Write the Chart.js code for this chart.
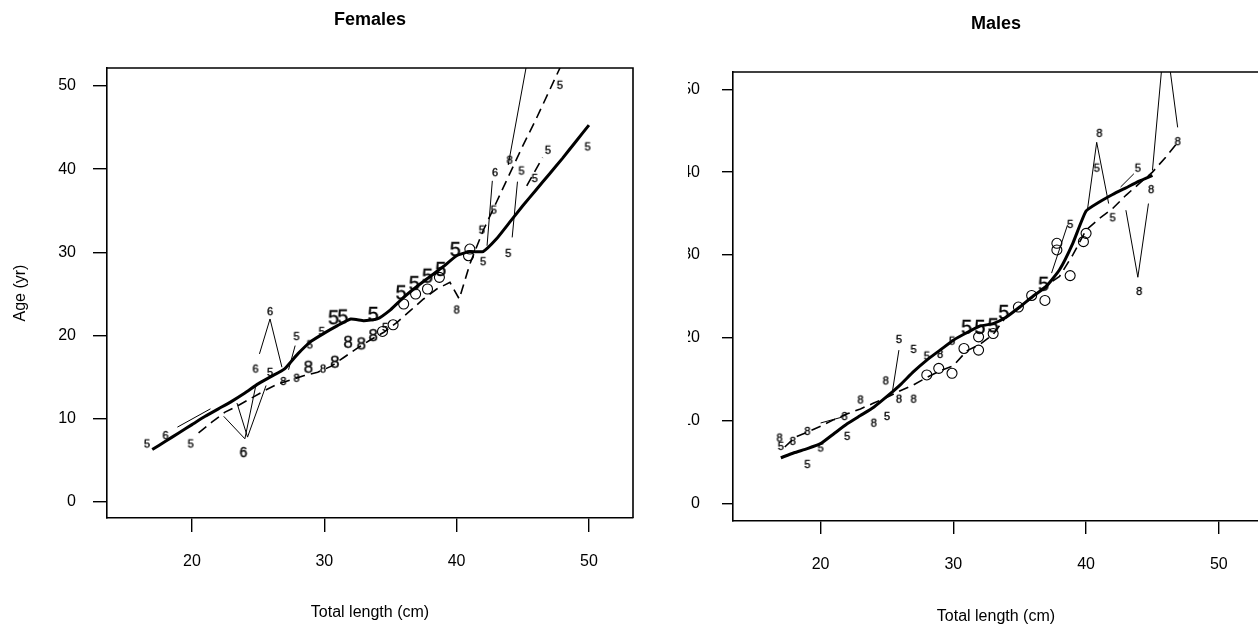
<!DOCTYPE html>
<html>
<head>
<meta charset="utf-8">
<script src="https://cdn.jsdelivr.net/npm/chart.js@4.4.1/dist/chart.umd.min.js"></script>
<style>
  html, body { margin: 0; padding: 0; background: #fff; }
  #wrap { position: relative; width: 1258px; height: 627px; overflow: hidden; }
  #femaleBox { position: absolute; left: 0; top: 0; width: 688px; height: 627px; }
  #maleBox { position: absolute; left: 688px; top: 0; width: 577px; height: 627px; }
</style>
</head>
<body>
<div id="wrap">
  <div id="femaleBox"><canvas id="femaleChart"></canvas></div>
  <div id="maleBox"><canvas id="maleChart"></canvas></div>
</div>
<script>
// axis ticks
const lengthTicks = [20, 30, 40, 50];
const ageTicks = [0, 10, 20, 30, 40, 50];

// ---- Females ----
const femaleLengths = [17,18,19,20,21,22,23,24,25,26,27,28,29,30,31,32,33,34,35,36,37,38,39,40,41,42,43,44,45,46,47,48,49,50];
const femaleMeanAge = [6.3,7.3,8.3,9.3,10.3,11.2,12.1,13.1,14.2,15.1,16.0,17.8,19.3,20.3,21.2,22.0,21.8,22.0,23.1,24.6,25.9,27.1,28.3,29.6,30.1,30.1,31.6,33.6,35.6,37.5,39.4,41.3,43.3,45.3];
const femaleDashed = [[20.5,8.3],[21.5,9.6],[22.5,10.8],[23.5,11.6],[24.5,12.5],[25.5,13.4],[26.5,14.2],[27.5,14.7],[28.5,15.2],[29.5,15.6],[30.5,16.3],[31.5,17.4],[32.5,18.5],[33.5,19.5],[34.5,20.4],[35.5,21.6],[36.5,23.0],[37.5,24.4],[38.5,25.6],[39.5,26.4],[40.2,24.4],[41.0,28.6],[42.0,32.6],[43.0,36.0],[44.0,39.4],[45.0,42.8],[46.0,46.0],[47.0,49.4],[48.2,53.5]];
const femaleDashed2 = [[45.3,38.0],[46.5,41.4]];
const femaleThin = [
  [[18.9,9.0],[21.4,11.2]],
  [[22.4,10.3],[24.0,7.6],[24.8,13.8]],
  [[23.4,11.9],[24.2,7.8],[25.6,14.0]],
  [[25.1,17.8],[25.9,22.0],[26.8,16.2]],
  [[27.3,15.9],[27.8,18.8]],
  [[42.3,30.8],[42.7,38.6]],
  [[44.2,31.8],[44.6,38.5]],
  [[43.9,40.5],[45.4,53.5]]
];
const femaleFives = [[16.6,7.1],[19.9,7.1],[25.9,15.7],[27.9,20.0],[28.9,19.0],[29.8,20.6],[34.6,21.1],[42.0,29.0],[43.9,30.0],[41.9,32.8],[42.8,35.2],[44.9,39.9],[45.9,39.0],[46.9,42.4],[49.9,42.8],[47.8,50.2]];
const femaleSixes = [[18.0,8.1],[24.8,16.1],[25.9,23.0],[42.9,39.7]];
const femaleBigSixes = [[23.9,6.0]];
const femaleEights = [[26.9,14.6],[27.9,15.0],[29.9,16.1],[40.0,23.2],[44.0,41.2]];
const femaleBigEights = [[28.8,16.2],[30.8,16.8],[31.8,19.2],[32.8,19.0],[33.7,20.0]];
const femaleCircles = [[34.4,20.5],[35.2,21.3],[36.0,23.8],[36.9,25.0],[37.8,25.6],[38.7,27.0],[40.9,29.6],[41.0,30.4]];
const femaleBigFives = [[30.7,22.2],[31.4,22.3],[33.7,22.6],[35.8,25.2],[36.8,26.3],[37.8,27.2],[38.8,28.0],[39.9,30.4]];

// ---- Males ----
const maleLengths = [17,18,19,20,21,22,23,24,25,26,27,28,29,30,31,32,33,34,35,36,37,38,39,40,41,42,43,44,45];
const maleMeanAge = [5.5,6.1,6.6,7.2,8.4,9.6,10.6,11.6,12.9,14.3,15.9,17.3,18.5,19.7,20.6,21.4,21.7,22.5,23.7,25.0,26.2,28.2,31.4,35.3,36.4,37.3,38.1,38.9,39.6];
const maleDashed = [[17.3,6.8],[18.1,8.0],[19,8.6],[20,9.3],[21,10.1],[22,10.8],[23,11.4],[24,12.1],[25,12.8],[26,13.6],[27,14.3],[28,15.2],[29,16.0],[30,16.6],[31,18.4],[32,19.2],[33,20.4],[34,22.6],[35,23.6],[36,25.0],[37,26.3],[38,27.4],[39,30.0],[40,33.0],[41,34.4],[42,35.6],[43,37.2],[44,38.6],[45,40.0],[46,41.8],[47,43.8]];
const maleThin = [
  [[20.0,9.7],[21.6,10.4]],
  [[25.4,13.4],[25.9,18.5]],
  [[37.4,27.8],[38.6,33.6]],
  [[40.1,35.4],[40.8,43.6],[41.7,36.2]],
  [[43.0,35.4],[43.9,27.3],[44.7,36.2]],
  [[45.0,40.2],[45.95,57],[46.9,45.4]],
  [[42.6,38.2],[43.6,39.8]]
];
const maleFives = [[17.0,7.0],[19.0,4.8],[20.0,6.8],[22.0,8.2],[25.0,10.6],[25.9,19.9],[27.0,18.7],[28.0,17.9],[29.9,19.7],[38.8,33.8],[40.8,40.6],[42.0,34.6],[43.9,40.6]];
const maleEights = [[16.9,8.0],[17.9,7.6],[19.0,8.8],[21.8,10.6],[23.0,12.6],[24.0,9.8],[24.9,14.9],[25.9,12.7],[27.0,12.7],[29.0,18.1],[41.0,44.8],[44.9,38.0],[44.0,25.7],[46.9,43.8]];
const maleCircles = [[28.0,15.5],[28.9,16.3],[29.9,15.7],[30.8,18.7],[31.9,18.5],[31.9,20.1],[33.0,20.5],[34.9,23.7],[35.9,25.1],[36.9,24.5],[37.8,30.6],[37.8,31.4],[38.8,27.5],[39.8,31.6],[40.0,32.6]];
const maleBigFives = [[31.0,21.3],[32.0,21.3],[33.0,21.5],[33.8,23.1],[36.8,26.5]];

const FONT = '"Liberation Sans", Arial, sans-serif';
Chart.defaults.font.family = FONT;
Chart.defaults.color = '#000';

// little canvases holding a digit, used as point style
function glyph(ch, size) {
  const c = document.createElement('canvas');
  const w = Math.ceil(size * 0.7) + 2, h = Math.ceil(size * 1.0) + 2;
  c.width = w; c.height = h;
  const g = c.getContext('2d');
  g.font = size + 'px ' + FONT;
  g.fillStyle = '#000';
  g.strokeStyle = '#000';
  g.lineWidth = 0.35;
  g.textAlign = 'center';
  g.textBaseline = 'middle';
  g.fillText(ch, w / 2, h / 2 + 1);
  g.strokeText(ch, w / 2, h / 2 + 1);
  return c;
}
const g5 = glyph('5', 11), g6 = glyph('6', 11), g8 = glyph('8', 11);
const gBig6 = glyph('6', 14), gBig8 = glyph('8', 17), gBig5 = glyph('5', 20);

const pts = arr => arr.map(p => ({x: p[0], y: p[1]}));
const zip = (xs, ys) => xs.map((x, i) => ({x: x, y: ys[i]}));

function lineSet(data, width, dash, tension) {
  return { data: data, showLine: true, borderColor: '#000', borderWidth: width,
    borderDash: dash || [], pointRadius: 0, tension: tension || 0, fill: false };
}
function markSet(data, style) {
  return { data: pts(data), showLine: false, pointStyle: style, pointRadius: 4,
    borderColor: '#000', backgroundColor: 'rgba(0,0,0,0)', borderWidth: 1.1 };
}

const frame = {
  id: 'frame',
  afterDraw(chart, args, opts) {
    const ctx = chart.ctx, a = chart.chartArea;
    ctx.save();
    ctx.strokeStyle = '#000';
    ctx.lineWidth = 1.6;
    ctx.beginPath();
    ctx.moveTo(a.left, a.top);
    ctx.lineTo(a.right, a.top);
    if (opts.right) ctx.lineTo(a.right, a.bottom);
    ctx.stroke();
    ctx.fillStyle = '#000';
    ctx.font = 'bold 18px ' + FONT;
    ctx.textAlign = 'center';
    ctx.textBaseline = 'middle';
    ctx.fillText(opts.title, (a.left + a.right) / 2, opts.titleY);
    ctx.restore();
  }
};

function makeChart(id, cfg) {
  const datasets = [
    lineSet(zip(cfg.lengths, cfg.mean), 3, [], 0.15),
    lineSet(pts(cfg.dashed), 1.6, [10, 6])
  ];
  cfg.extraDashed.forEach(d => datasets.push(lineSet(pts(d), 1.6, [10, 6])));
  cfg.thin.forEach(seg => datasets.push(lineSet(pts(seg), 1, [])));
  datasets.push(markSet(cfg.fives, g5));
  datasets.push(markSet(cfg.sixes, g6));
  datasets.push(markSet(cfg.bigSixes, gBig6));
  datasets.push(markSet(cfg.eights, g8));
  datasets.push(markSet(cfg.bigEights, gBig8));
  datasets.push(markSet(cfg.bigFives, gBig5));
  const circles = markSet(cfg.circles, 'circle');
  circles.pointRadius = 5;
  datasets.push(circles);

  return new Chart(document.getElementById(id), {
    type: 'scatter',
    data: { datasets: datasets },
    options: {
      responsive: true,
      maintainAspectRatio: false,
      animation: false,
      events: [],
      layout: { padding: cfg.padding },
      plugins: {
        legend: { display: false },
        tooltip: { enabled: false },
        frame: { title: cfg.title, titleY: cfg.titleY, right: cfg.rightBorder }
      },
      scales: {
        x: {
          type: 'linear', min: cfg.xMin, max: cfg.xMax,
          afterBuildTicks: s => { s.ticks = lengthTicks.map(v => ({value: v})); },
          afterFit: s => { s.height = cfg.xAxisHeight; },
          grid: { drawOnChartArea: false, drawTicks: true, tickLength: cfg.xTickLen, color: '#000', lineWidth: 1.4 },
          border: { display: true, color: '#000', width: 1.6 },
          ticks: { color: '#000', font: { size: 16 }, padding: cfg.xTickPad, maxRotation: 0 },
          title: { display: true, text: 'Total length (cm)', color: '#000', font: { size: 16 },
                   padding: { top: 0, bottom: cfg.xTitlePad } }
        },
        y: {
          type: 'linear', min: cfg.yMin, max: cfg.yMax,
          afterBuildTicks: s => { s.ticks = ageTicks.map(v => ({value: v})); },
          afterFit: s => { s.width = cfg.yAxisWidth; },
          grid: { drawOnChartArea: false, drawTicks: true, tickLength: cfg.yTickLen, color: '#000', lineWidth: 1.4 },
          border: { display: true, color: '#000', width: 1.6 },
          ticks: { color: '#000', font: { size: 16 }, padding: cfg.yTickPad },
          title: { display: cfg.yTitle !== '', text: cfg.yTitle, color: '#000', font: { size: 16 },
                   padding: { top: 11, bottom: 0 } }
        }
      }
    },
    plugins: [frame]
  });
}

makeChart('femaleChart', {
  title: 'Females', titleY: 20, rightBorder: true, yTitle: 'Age (yr)',
  lengths: femaleLengths, mean: femaleMeanAge, dashed: femaleDashed, extraDashed: [femaleDashed2],
  thin: femaleThin, fives: femaleFives, sixes: femaleSixes, bigSixes: femaleBigSixes,
  eights: femaleEights, bigEights: femaleBigEights, bigFives: femaleBigFives, circles: femaleCircles,
  xMin: 13.58, xMax: 53.33, yMin: -1.92, yMax: 52.16,
  padding: { top: 68, right: 55, left: 0, bottom: 0 },
  xAxisHeight: 109, xTickLen: 14, xTickPad: 20, xTitlePad: 5,
  yAxisWidth: 107, yTickLen: 14, yTickPad: 17
});

makeChart('maleChart', {
  title: 'Males', titleY: 24, rightBorder: false, yTitle: '',
  lengths: maleLengths, mean: maleMeanAge, dashed: maleDashed, extraDashed: [],
  thin: maleThin, fives: maleFives, sixes: [], bigSixes: [],
  eights: maleEights, bigEights: [], bigFives: maleBigFives, circles: maleCircles,
  xMin: 13.4, xMax: 53.02, yMin: -2.14, yMax: 52.09,
  padding: { top: 72, right: 0, left: 0, bottom: 0 },
  xAxisHeight: 106, xTickLen: 13, xTickPad: 21, xTitlePad: 1,
  yAxisWidth: 45, yTickLen: 11, yTickPad: 22
});
</script>
</body>
</html>
